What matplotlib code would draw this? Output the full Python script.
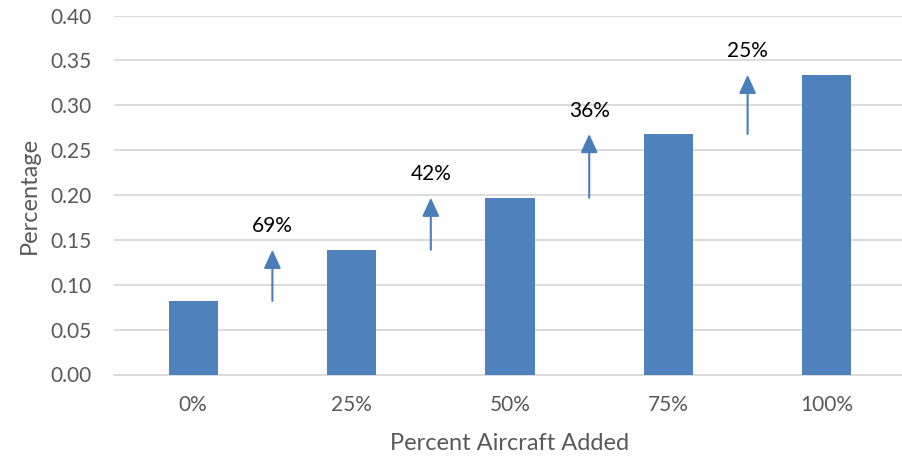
import matplotlib
matplotlib.use("Agg")
from matplotlib import pyplot as plt

categories = ["0%", "25%", "50%", "75%", "100%"]
values = [0.082, 0.139, 0.197, 0.268, 0.334]
growth_labels = ["69%", "42%", "36%", "25%"]

BAR_COLOR = "#4F81BD"
ARROW_COLOR = "#4A7EBB"
TEXT_COLOR = "#595959"
GRID_COLOR = "#D9D9D9"

plt.rcParams["font.family"] = ["Lato", "DejaVu Sans"]

fig = plt.figure(figsize=(9.03, 4.58), dpi=100)
ax = fig.add_axes([114 / 903, 1 - 374.5 / 458, 792 / 903, 359 / 458])

x = list(range(len(categories)))
ax.bar(x, values, width=0.31, color=BAR_COLOR, zorder=3)

# growth arrows between neighbouring bars
for i, label in enumerate(growth_labels):
    xm = i + 0.5
    ax.annotate("", xy=(xm, values[i + 1]), xytext=(xm, values[i]),
                arrowprops=dict(arrowstyle="-|>,head_length=1.13,head_width=0.52",
                                mutation_scale=10, color=ARROW_COLOR, lw=1.5,
                                shrinkA=0, shrinkB=0),
                zorder=4)
    ax.text(xm, values[i + 1] + 0.026, label, ha="center", va="center",
            fontsize=15, color="black", zorder=5)

ax.set_xlim(-0.5, 4.5)
ax.set_ylim(0, 0.40)
ax.set_yticks([i * 0.05 for i in range(9)])
ax.set_yticklabels([f"{i * 0.05:.2f}" for i in range(9)])
ax.set_xticks(x)
ax.set_xticklabels(categories)

ax.grid(axis="y", color=GRID_COLOR, lw=1.3, zorder=0)
ax.set_axisbelow(True)
for side in ["top", "right", "left"]:
    ax.spines[side].set_visible(False)
ax.spines["bottom"].set_color(GRID_COLOR)
ax.spines["bottom"].set_linewidth(1.3)

ax.tick_params(axis="both", length=0, labelsize=15, colors=TEXT_COLOR)
ax.tick_params(axis="y", pad=16)
ax.tick_params(axis="x", pad=15)

ax.set_xlabel("Percent Aircraft Added", fontsize=17, color=TEXT_COLOR, labelpad=13)
ax.set_ylabel("Percentage", fontsize=17, color=TEXT_COLOR, labelpad=8)

fig.savefig("out.png", dpi=100)
